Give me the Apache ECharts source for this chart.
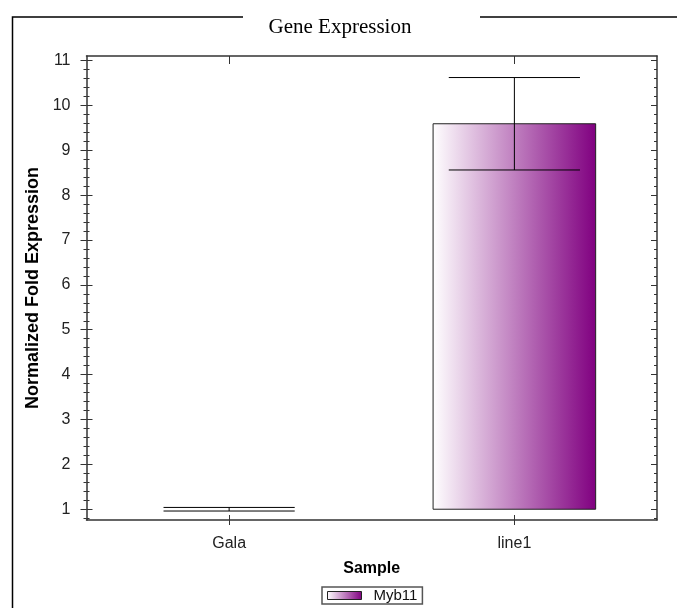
<!DOCTYPE html>
<html>
<head>
<meta charset="utf-8">
<title>Gene Expression</title>
<script src="https://cdn.jsdelivr.net/npm/echarts@6/dist/echarts.min.js"></script>
<style>
  html, body { margin: 0; padding: 0; background: #fff; }
  #chart { width: 677px; height: 608px; }
</style>
</head>
<body>
<div id="chart"></div>
<script>
// Samples and normalized fold expression of Myb11 (mean ± error)
const samples = ['Gala', 'line1'];
const foldExpression = [1.0, 9.59];
const errorAmount = [0.04, 1.03];
const seriesName = 'Myb11';
const baseline = 1;

// Value axis labels and minor tick positions
const yTickLabels = [1, 2, 3, 4, 5, 6, 7, 8, 9, 10, 11];
const yMinorTicks = [];
for (let k = 4; k <= 55; k++) {
  if (k % 5 !== 0) yMinorTicks.push(+(k * 0.2).toFixed(1));
}

const Y_MIN = 0.76;
const Y_MAX = 11.1;
const SANS = '"Liberation Sans", Arial, sans-serif';
const AXIS_COLOR = '#333';

const barGradient = new echarts.graphic.LinearGradient(0, 0, 1, 0, [
  { offset: 0, color: '#ffffff' },
  { offset: 1, color: '#800080' }
]);

function valueAxis(position, tick, extra) {
  return Object.assign({
    type: 'value',
    position: position,
    min: Y_MIN,
    max: Y_MAX,
    offset: 0,
    axisLine: { show: false },
    axisLabel: { show: false },
    splitLine: { show: false },
    axisTick: Object.assign({ show: true, lineStyle: { color: AXIS_COLOR, width: 1 } }, tick)
  }, extra || {});
}

const chart = echarts.init(document.getElementById('chart'), null, { renderer: 'canvas' });

const option = {
  backgroundColor: '#fff',
  animation: false,
  title: {
    text: 'Gene Expression',
    left: 335,
    textAlign: 'center',
    top: 12,
    textStyle: { fontFamily: '"Liberation Serif", "Times New Roman", serif', fontSize: 21, fontWeight: 'normal', color: '#000' }
  },
  graphic: [
    { type: 'polyline', silent: true, shape: { points: [[243, 17], [12.5, 17], [12.5, 608]] }, style: { stroke: '#000', lineWidth: 1.5, fill: null } },
    { type: 'polyline', silent: true, shape: { points: [[480, 17], [677, 17]] }, style: { stroke: '#000', lineWidth: 1.5, fill: null } }
  ],
  legend: {
    left: 322,
    top: 587,
    orient: 'horizontal',
    padding: [1, 5, 1, 5],
    borderColor: '#555',
    borderWidth: 1.5,
    borderRadius: 0,
    itemWidth: 34,
    itemHeight: 8,
    data: [{ name: seriesName, icon: 'rect', itemStyle: { color: barGradient, borderColor: '#222', borderWidth: 1 } }],
    textStyle: { fontFamily: SANS, fontSize: 15, lineHeight: 14, color: '#111', padding: [0, 0, 0, 7] }
  },
  grid: { left: 86.5, right: 20, top: 56, bottom: 88, containLabel: false },
  xAxis: [
    {
      type: 'category',
      position: 'bottom',
      data: samples,
      name: 'Sample',
      nameLocation: 'middle',
      nameGap: 41,
      nameTextStyle: { fontFamily: SANS, fontSize: 16, fontWeight: 'bold', color: '#000' },
      axisLine: { show: true, lineStyle: { color: AXIS_COLOR, width: 1.5 } },
      axisTick: { show: true, alignWithLabel: true, length: 5, lineStyle: { color: AXIS_COLOR } },
      axisLabel: { fontFamily: SANS, fontSize: 16, color: '#222', margin: 16 },
      splitLine: { show: false }
    },
    {
      type: 'category',
      position: 'top',
      data: samples,
      axisLine: { show: true, lineStyle: { color: AXIS_COLOR, width: 1.5 } },
      axisTick: { show: true, inside: true, alignWithLabel: true, length: 8, lineStyle: { color: AXIS_COLOR } },
      axisLabel: { show: false },
      splitLine: { show: false }
    },
    {
      type: 'category',
      position: 'bottom',
      offset: 0,
      data: samples,
      axisLine: { show: false },
      axisTick: { show: true, inside: true, alignWithLabel: true, length: 5, lineStyle: { color: AXIS_COLOR } },
      axisLabel: { show: false },
      splitLine: { show: false }
    }
  ],
  yAxis: [
    valueAxis('left', { length: 6, customValues: yTickLabels }, {
      name: 'Normalized Fold Expression',
      nameLocation: 'middle',
      nameGap: 41,
      nameRotate: 90,
      nameTextStyle: { fontFamily: SANS, fontSize: 18, fontWeight: 'bold', color: '#000' },
      axisLine: { show: true, lineStyle: { color: AXIS_COLOR, width: 1.5 } },
      axisLabel: { show: true, customValues: yTickLabels, fontFamily: SANS, fontSize: 16, color: '#222', margin: 16 }
    }),
    valueAxis('left', { inside: true, length: 6, customValues: yTickLabels }),
    valueAxis('left', { length: 3, customValues: yMinorTicks }),
    valueAxis('left', { inside: true, length: 3, customValues: yMinorTicks }),
    valueAxis('right', { inside: true, length: 6, customValues: yTickLabels }, {
      axisLine: { show: true, lineStyle: { color: AXIS_COLOR, width: 1.5 } }
    }),
    valueAxis('right', { inside: true, length: 3, customValues: yMinorTicks })
  ],
  series: [
    {
      name: seriesName,
      type: 'custom',
      xAxisIndex: 0,
      yAxisIndex: 0,
      itemStyle: { color: barGradient, borderColor: '#222', borderWidth: 1 },
      data: samples.map((s, i) => [i, foldExpression[i]]),
      renderItem: function (params, api) {
        const i = api.value(0);
        const top = api.coord([i, api.value(1)]);
        const bottom = api.coord([i, baseline]);
        const w = api.size([1, 0])[0] * 0.57;
        const h = bottom[1] - top[1];
        if (Math.abs(h) < 0.5) return { type: 'group', children: [] };
        return {
          type: 'rect',
          shape: { x: top[0] - w / 2, y: top[1], width: w, height: h },
          style: { fill: barGradient, stroke: '#222', lineWidth: 1 }
        };
      }
    },
    {
      name: 'error',
      type: 'custom',
      xAxisIndex: 0,
      yAxisIndex: 0,
      z: 5,
      data: samples.map((s, i) => [i, foldExpression[i] + errorAmount[i], foldExpression[i] - errorAmount[i]]),
      renderItem: function (params, api) {
        const i = api.value(0);
        const hi = api.coord([i, api.value(1)]);
        const lo = api.coord([i, api.value(2)]);
        const half = api.size([1, 0])[0] * 0.46 / 2;
        const style = { stroke: '#000', lineWidth: 1 };
        return {
          type: 'group',
          children: [
            { type: 'line', shape: { x1: hi[0], y1: hi[1], x2: lo[0], y2: lo[1] }, style: style },
            { type: 'line', shape: { x1: hi[0] - half, y1: hi[1], x2: hi[0] + half, y2: hi[1] }, style: style },
            { type: 'line', shape: { x1: lo[0] - half, y1: lo[1], x2: lo[0] + half, y2: lo[1] }, style: style }
          ]
        };
      }
    }
  ]
};

chart.setOption(option);
</script>
</body>
</html>
